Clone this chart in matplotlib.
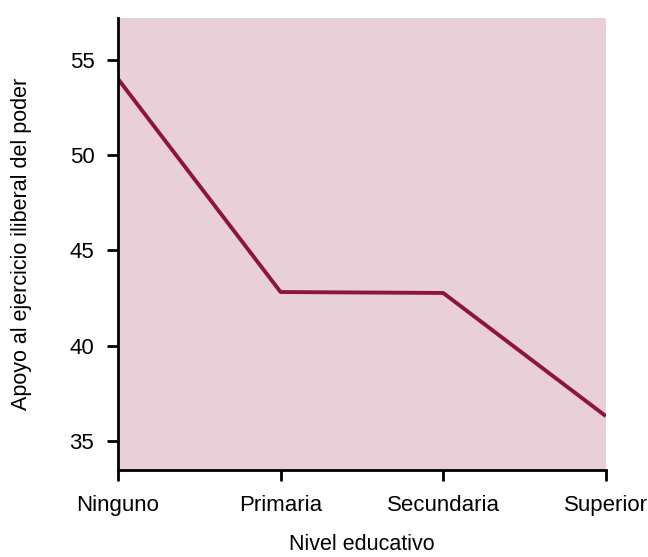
import matplotlib.pyplot as plt

plt.rcParams['font.family'] = ['Liberation Sans', 'DejaVu Sans']

niveles = ["Ninguno", "Primaria", "Secundaria", "Superior"]
apoyo = [54.0, 42.82, 42.77, 36.31]
yticks = [35, 40, 45, 50, 55]

fig = plt.figure(figsize=(6.48, 5.57), dpi=100)
ax = fig.add_axes([0.182, 0.156, 0.753, 0.812])
ax.set_facecolor("#e8cfd8")

ax.plot(range(len(niveles)), apoyo, color="#8c1639", linewidth=2.8, solid_capstyle="butt")

ax.set_xlim(0, len(niveles) - 1)
ax.set_ylim(33.48, 57.2)
ax.set_xticks(range(len(niveles)))
ax.set_xticklabels(niveles)
ax.set_yticks(yticks)

for s in ["top", "right"]:
    ax.spines[s].set_visible(False)
for s in ["left", "bottom"]:
    ax.spines[s].set_linewidth(2)

ax.tick_params(axis="both", length=8, width=2, labelsize=16, colors="black")
ax.tick_params(axis="x", pad=10)
ax.tick_params(axis="y", pad=9)

ax.set_xlabel("Nivel educativo", fontsize=15.5, labelpad=13)
ax.set_ylabel("Apoyo al ejercicio iliberal del poder", fontsize=15.5, labelpad=27)

fig.savefig("out.png", dpi=100)
